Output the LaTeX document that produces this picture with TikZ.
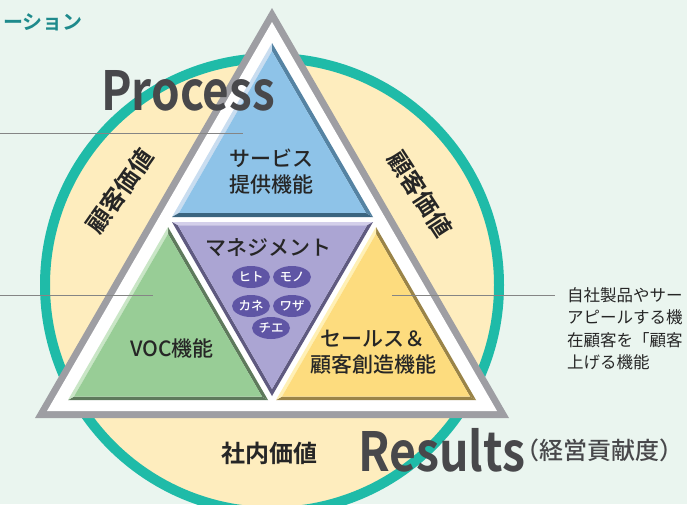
\documentclass[tikz,border=0pt]{standalone}
\usepackage{fontspec}
\setmainfont{Noto Sans CJK JP}[BoldFont={Noto Sans CJK JP Bold}]
\newfontfamily\jpm{Noto Sans CJK JP Medium}
\usetikzlibrary{calc,shapes.geometric}
\definecolor{bgc}{HTML}{EAF5EF}
\definecolor{teal}{HTML}{1FBBA8}
\definecolor{cream}{HTML}{FEEDBE}
\definecolor{tgray}{HTML}{9E9EA3}
\definecolor{dk}{HTML}{48484B}
\definecolor{txt}{HTML}{262626}
\definecolor{lead}{HTML}{858585}
\definecolor{ttl}{HTML}{1E8A8C}
\definecolor{bluef}{HTML}{8EC3E8}
\definecolor{bluel}{HTML}{C9DDF0}
\definecolor{bluem}{HTML}{5583A3}
\definecolor{blued}{HTML}{3A6580}
\definecolor{purf}{HTML}{ABA5D3}
\definecolor{purl}{HTML}{D3CFEA}
\definecolor{purd}{HTML}{5F5A80}
\definecolor{grnf}{HTML}{98CD96}
\definecolor{grnl}{HTML}{C9E6C6}
\definecolor{grnd}{HTML}{5E7A5C}
\definecolor{yelf}{HTML}{FDDC7E}
\definecolor{yell}{HTML}{FFF0B5}
\definecolor{yeld}{HTML}{9A8448}
\definecolor{ellc}{HTML}{5F55A5}
\newcommand{\bevtri}[8]{%
  \coordinate (gc) at ($1/3*(#1)+1/3*(#2)+1/3*(#3)$);
  \coordinate (i1) at ($(#1)!#8!(gc)$);
  \coordinate (i2) at ($(#2)!#8!(gc)$);
  \coordinate (i3) at ($(#3)!#8!(gc)$);
  \fill[#5] (#1) -- (#2) -- (i2) -- (i1) -- cycle;
  \fill[#6] (#2) -- (#3) -- (i3) -- (i2) -- cycle;
  \fill[#7] (#3) -- (#1) -- (i1) -- (i3) -- cycle;
  \fill[#4] (i1) -- (i2) -- (i3) -- cycle;
}
\begin{document}
\begin{tikzpicture}[x=1pt,y=-1pt,
  inner/.style={text=txt, align=center, font=\jpm\fontsize{21}{26}\selectfont},
  side/.style={text=txt, font=\fontsize{24}{24}\bfseries},
  ell/.style={ellipse, fill=ellc, text=white, minimum width=38pt, minimum height=22pt, inner sep=0pt, font=\jpm\fontsize{12.5}{12.5}\selectfont},
  big/.style={text=dk, font=\fontsize{54}{54}\bfseries, inner sep=0pt},
  leadline/.style={draw=lead, line width=1pt}]
\fill[bgc] (0,0) rectangle (687,504);
\useasboundingbox (0,0) rectangle (687,504);
\clip (0,0) rectangle (687,504);
% circle
\coordinate (cc) at (272,285);
\draw[teal, fill=cream, line width=10pt] (cc) circle[radius=227pt];
% outer triangle
\coordinate (T1) at (272,8);
\coordinate (T2) at (35,418);
\coordinate (T3) at (509,418);
\fill[tgray] (T1) -- (T2) -- (T3) -- cycle;
\coordinate (W1) at (272,22);
\coordinate (W2) at (47,411);
\coordinate (W3) at (497,411);
\fill[white] (W1) -- (W2) -- (W3) -- cycle;
% inner triangles
\coordinate (B1) at (272,43);
\coordinate (B2) at (172,217);
\coordinate (B3) at (373,217);
\bevtri{B1}{B2}{B3}{bluef}{bluel}{blued}{bluem}{0.07}
\coordinate (P1) at (172,222);
\coordinate (P2) at (373,222);
\coordinate (P3) at (272,396);
\bevtri{P1}{P2}{P3}{purf}{purl}{purd}{purd}{0.06}
\coordinate (G1) at (168,227);
\coordinate (G2) at (268,400);
\coordinate (G3) at (68,400);
\bevtri{G1}{G2}{G3}{grnf}{grnd}{grnd}{grnl}{0.06}
\coordinate (Y1) at (376,227);
\coordinate (Y2) at (476,400);
\coordinate (Y3) at (276,400);
\bevtri{Y1}{Y2}{Y3}{yelf}{yeld}{yeld}{yell}{0.06}
% leader lines
\coordinate (la1) at (0,133);
\coordinate (lb1) at (243,133);
\draw[leadline] (la1) -- (lb1);
\coordinate (la2) at (0,295);
\coordinate (lb2) at (153,295);
\draw[leadline] (la2) -- (lb2);
\coordinate (la3) at (392,295);
\coordinate (lb3) at (555,295);
\draw[leadline] (la3) -- (lb3);
% texts
\node[text=ttl, font=\fontsize{20}{20}\bfseries, anchor=east, inner sep=0pt] (ttlt) at (83,22) {ーション};
\node[big, anchor=base west] (proc) at (101,110) {\scalebox{0.85}[1]{Process}};
\node[big, anchor=base west] (res) at (358,471) {\scalebox{0.86}[1]{Results}};
\node[text=dk, font=\jpm\fontsize{24}{24}\selectfont, anchor=west, inner sep=0pt] (resj) at ([xshift=-10pt,yshift=-1pt]res.east) {（経営貢献度）};
\node[side, rotate=55] (cvl) at (120,191) {顧客価値};
\node[side, rotate=-57] (cvr) at (420,194) {顧客価値};
\node[side] (snv) at (269,453) {社内価値};
\node[inner] (svc) at (271,172) {サービス\\提供機能};
\node[inner] (mgt) at (268,248) {マネジメント};
\node[ell] (e1) at (251,277) {ヒト};
\node[ell] (e2) at (292,277) {モノ};
\node[ell] (e3) at (251,306) {カネ};
\node[ell] (e4) at (292,306) {ワザ};
\node[ell] (e5) at (271,328) {チエ};
\node[inner] (voc) at (172,348) {VOC機能};
\node[inner] (sls) at (373,352) {セールス＆\\顧客創造機能};
\node[text=txt, anchor=north west, align=left, inner sep=0pt, font=\fontsize{16.5}{22.6}\selectfont] (rt) at (567,287) {自社製品やサー\\アピールする機\\在顧客を「顧客\\上げる機能};
\end{tikzpicture}
\end{document}
